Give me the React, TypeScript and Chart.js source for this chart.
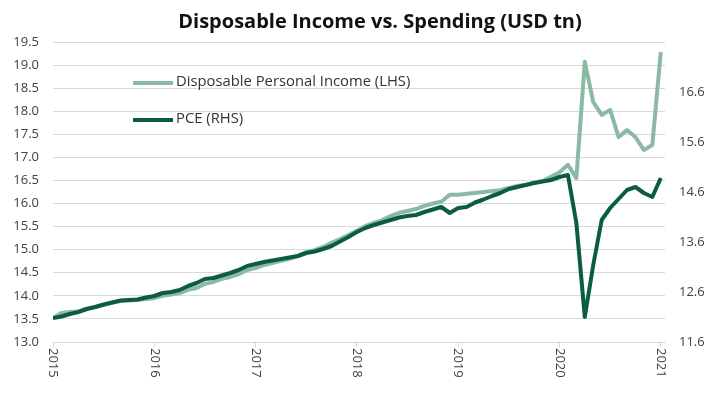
import React, { useEffect, useRef } from 'react';
import { Chart, registerables } from 'chart.js';

Chart.register(...registerables);

const TITLE = 'Disposable Income vs. Spending (USD tn)';
const yearLabels = ['2015', '2016', '2017', '2018', '2019', '2020', '2021'];
const monthNames = ['Jan', 'Feb', 'Mar', 'Apr', 'May', 'Jun', 'Jul', 'Aug', 'Sep', 'Oct', 'Nov', 'Dec'];

// Monthly, Jan 2015 .. Jan 2021 (73 points)
const dpiLabel = 'Disposable Personal Income (LHS)';
const dpi = [
  13.52, 13.63, 13.65, 13.66, 13.72, 13.76, 13.80, 13.85, 13.89, 13.90, 13.91, 13.93,
  13.95, 14.00, 14.03, 14.06, 14.13, 14.17, 14.26, 14.30, 14.37, 14.41, 14.47, 14.56,
  14.60, 14.67, 14.71, 14.76, 14.80, 14.86, 14.95, 14.99, 15.06, 15.15, 15.23, 15.32,
  15.41, 15.51, 15.58, 15.64, 15.73, 15.80, 15.84, 15.88, 15.95, 16.00, 16.04, 16.19,
  16.19, 16.21, 16.23, 16.25, 16.27, 16.29, 16.34, 16.38, 16.41, 16.45, 16.49, 16.58,
  16.68, 16.84, 16.55, 19.07, 18.20, 17.92, 18.03, 17.44, 17.59, 17.44, 17.16, 17.27,
  19.28,
];

const pceLabel = 'PCE (RHS)';
const pce = [
  12.08, 12.11, 12.16, 12.20, 12.26, 12.30, 12.35, 12.39, 12.43, 12.44, 12.45, 12.49,
  12.52, 12.58, 12.60, 12.64, 12.72, 12.78, 12.86, 12.88, 12.93, 12.98, 13.04, 13.12,
  13.16, 13.20, 13.23, 13.26, 13.29, 13.32, 13.38, 13.41, 13.46, 13.52, 13.61, 13.70,
  13.80, 13.88, 13.94, 13.99, 14.04, 14.09, 14.12, 14.14, 14.20, 14.25, 14.30, 14.18,
  14.28, 14.30, 14.39, 14.45, 14.52, 14.58, 14.66, 14.70, 14.74, 14.78, 14.81, 14.84,
  14.90, 14.94, 13.98, 12.10, 13.14, 14.04, 14.28, 14.46, 14.64, 14.70, 14.58, 14.50,
  14.88,
];

const leftTicks = [13.0, 13.5, 14.0, 14.5, 15.0, 15.5, 16.0, 16.5, 17.0, 17.5, 18.0, 18.5, 19.0, 19.5];
const rightTicks = [11.6, 12.6, 13.6, 14.6, 15.6, 16.6, 17.6];
const rightLabelled = [11.6, 12.6, 13.6, 14.6, 15.6, 16.6];

const DPI_COLOR = '#8abaa4';
const PCE_COLOR = '#0c5d40';
const GRID = '#d9d9d9';
const FONT = '"Open Sans", "Noto Sans", sans-serif';

const monthLabels: string[] = [];
yearLabels.forEach((y) => monthNames.forEach((m) => monthLabels.push(`${m} ${y}`)));

const overlay = {
  id: 'overlay',
  afterDraw(chart: any) {
    const ctx = chart.ctx as CanvasRenderingContext2D;
    const area = chart.chartArea;
    ctx.save();
    // title
    ctx.font = `bold 20px ${FONT}`;
    ctx.fillStyle = '#111111';
    ctx.textAlign = 'center';
    ctx.textBaseline = 'middle';
    ctx.fillText(TITLE, 380, 22);

    // x labels, rotated clockwise
    const xs = chart.scales.x;
    ctx.font = `13px ${FONT}`;
    ctx.fillStyle = '#404040';
    yearLabels.forEach((lab, k) => {
      const px = xs.getPixelForValue(k * 12);
      ctx.save();
      ctx.translate(px, area.bottom + 6);
      ctx.rotate(Math.PI / 2);
      ctx.textAlign = 'left';
      ctx.textBaseline = 'middle';
      ctx.fillText(lab, 0, 0);
      ctx.restore();
    });

    // legend
    const items = [
      { label: chart.data.datasets[0].label, color: chart.data.datasets[0].borderColor, y: 83 },
      { label: chart.data.datasets[1].label, color: chart.data.datasets[1].borderColor, y: 120 },
    ];
    ctx.font = `14.8px ${FONT}`;
    items.forEach((it) => {
      ctx.strokeStyle = it.color;
      ctx.lineWidth = 4;
      ctx.beginPath();
      ctx.moveTo(133, it.y);
      ctx.lineTo(173, it.y);
      ctx.stroke();
      ctx.fillStyle = '#333333';
      ctx.textAlign = 'left';
      ctx.textBaseline = 'middle';
      ctx.fillText(it.label, 176, it.y - 1);
    });
    ctx.restore();
  },
};

export default function App() {
  const ref = useRef<HTMLCanvasElement | null>(null);

  useEffect(() => {
    if (!ref.current) return;
    const chart = new Chart(ref.current, {
      type: 'line',
      data: {
        labels: monthLabels.slice(0, dpi.length),
        datasets: [
          {
            label: dpiLabel,
            data: dpi.map((v, i) => ({ x: i, y: v })),
            yAxisID: 'y',
            borderColor: DPI_COLOR,
            backgroundColor: DPI_COLOR,
            borderWidth: 4,
            pointRadius: 0,
            tension: 0,
            borderJoinStyle: 'round',
            order: 1,
          },
          {
            label: pceLabel,
            data: pce.map((v, i) => ({ x: i, y: v })),
            yAxisID: 'y1',
            borderColor: PCE_COLOR,
            backgroundColor: PCE_COLOR,
            borderWidth: 4,
            pointRadius: 0,
            tension: 0,
            borderJoinStyle: 'round',
            order: 0,
          },
        ],
      },
      options: {
        animation: false,
        responsive: false,
        devicePixelRatio: 1,
        layout: { padding: { top: 42, left: 0, right: 0, bottom: 0 } },
        plugins: {
          legend: { display: false },
          tooltip: { enabled: false },
          title: { display: false },
        },
        scales: {
          x: {
            type: 'linear',
            min: 0,
            max: 72.5,
            afterBuildTicks: (axis: any) => {
              axis.ticks = yearLabels.map((_, k) => ({ value: k * 12 }));
            },
            afterFit: (axis: any) => {
              axis.height = 57;
            },
            ticks: { display: false },
            grid: {
              display: true,
              drawOnChartArea: false,
              drawTicks: true,
              tickLength: 5,
              color: GRID,
              lineWidth: 1,
            },
            border: { display: true, color: GRID, width: 1 },
          },
          y: {
            position: 'left',
            min: 13.0,
            max: 19.5,
            afterBuildTicks: (axis: any) => {
              axis.ticks = leftTicks.map((v) => ({ value: v }));
            },
            afterFit: (axis: any) => {
              axis.width = 53;
            },
            ticks: {
              padding: 14,
              color: '#404040',
              font: { family: FONT, size: 13 },
              callback: (v: any) => Number(v).toFixed(1),
            },
            grid: { color: GRID, lineWidth: 1, drawTicks: false },
            border: { display: false },
          },
          y1: {
            position: 'right',
            min: 11.6,
            max: 17.6,
            afterBuildTicks: (axis: any) => {
              axis.ticks = rightTicks.map((v) => ({ value: v }));
            },
            afterFit: (axis: any) => {
              axis.width = 60;
            },
            ticks: {
              padding: 14,
              color: '#404040',
              font: { family: FONT, size: 13 },
              callback: (v: any) => {
                const n = Number(v);
                return rightLabelled.some((r) => Math.abs(r - n) < 1e-6) ? n.toFixed(1) : '';
              },
            },
            grid: { display: false, drawTicks: false },
            border: { display: false },
          },
        },
      },
      plugins: [overlay],
    });
    return () => chart.destroy();
  }, []);

  return (
    <div style={{ position: 'fixed', left: 0, top: 0, width: 725, height: 399, background: '#ffffff' }}>
      <canvas ref={ref} width={725} height={399} style={{ display: 'block', width: 725, height: 399 }} />
    </div>
  );
}
